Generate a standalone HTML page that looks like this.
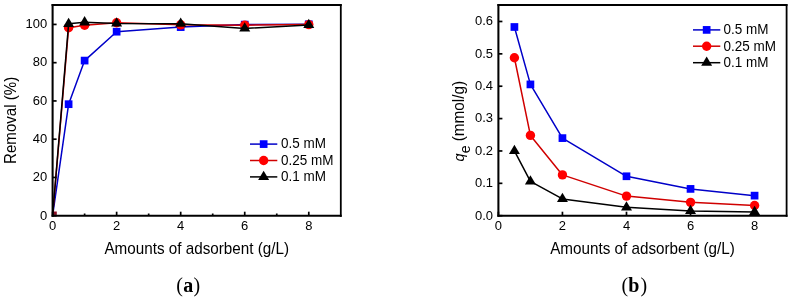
<!DOCTYPE html>
<html><head><meta charset="utf-8"><style>
html,body{margin:0;padding:0;background:#fff;}
body{width:794px;height:302px;overflow:hidden;}
svg{display:block;}
#w{width:794px;height:302px;will-change:transform;}
</style></head><body><div id="w">
<svg width="794" height="302" viewBox="0 0 794 302">
<rect width="794" height="302" fill="#fff"/>
<defs>
<clipPath id="cl"><rect x="52.6" y="5.3" width="288.2" height="210.4"/></clipPath>
<clipPath id="cr"><rect x="498.4" y="5.3" width="288.2" height="210.4"/></clipPath>
</defs>
<path d="M52.6 215.7L68.61 104.19L84.62 60.58L116.64 31.7L180.69 27.11L244.73 24.62L308.78 24.24" fill="none" stroke="#0000c8" stroke-width="1.5" stroke-linejoin="round" clip-path="url(#cl)"/>
<g clip-path="url(#cl)"><rect x="64.76" y="100.34" width="7.7" height="7.7" fill="#0000ff"/></g>
<g clip-path="url(#cl)"><rect x="80.77" y="56.73" width="7.7" height="7.7" fill="#0000ff"/></g>
<g clip-path="url(#cl)"><rect x="112.79" y="27.85" width="7.7" height="7.7" fill="#0000ff"/></g>
<g clip-path="url(#cl)"><rect x="176.84" y="23.26" width="7.7" height="7.7" fill="#0000ff"/></g>
<g clip-path="url(#cl)"><rect x="240.88" y="20.77" width="7.7" height="7.7" fill="#0000ff"/></g>
<g clip-path="url(#cl)"><rect x="304.93" y="20.39" width="7.7" height="7.7" fill="#0000ff"/></g>
<path d="M52.6 215.7L68.61 27.68L84.62 25.19L116.64 22.71L180.69 24.81L244.73 25.19L308.78 24.62" fill="none" stroke="#d00000" stroke-width="1.5" stroke-linejoin="round" clip-path="url(#cl)"/>
<g clip-path="url(#cl)"><circle cx="68.61" cy="27.68" r="4.7" fill="#ff0000"/></g>
<g clip-path="url(#cl)"><circle cx="84.62" cy="25.19" r="4.7" fill="#ff0000"/></g>
<g clip-path="url(#cl)"><circle cx="116.64" cy="22.71" r="4.7" fill="#ff0000"/></g>
<g clip-path="url(#cl)"><circle cx="180.69" cy="24.81" r="4.7" fill="#ff0000"/></g>
<g clip-path="url(#cl)"><circle cx="244.73" cy="25.19" r="4.7" fill="#ff0000"/></g>
<g clip-path="url(#cl)"><circle cx="308.78" cy="24.62" r="4.7" fill="#ff0000"/></g>
<path d="M52.6 215.7L68.61 23.85L84.62 22.32L116.64 23.38L180.69 23.66L244.73 28.44L308.78 25" fill="none" stroke="#000000" stroke-width="1.5" stroke-linejoin="round" clip-path="url(#cl)"/>
<g clip-path="url(#cl)"><path d="M68.61 17.65L74.11 26.95L63.11 26.95Z" fill="#000000"/></g>
<g clip-path="url(#cl)"><path d="M84.62 16.12L90.12 25.42L79.12 25.42Z" fill="#000000"/></g>
<g clip-path="url(#cl)"><path d="M116.64 17.18L122.14 26.48L111.14 26.48Z" fill="#000000"/></g>
<g clip-path="url(#cl)"><path d="M180.69 17.46L186.19 26.76L175.19 26.76Z" fill="#000000"/></g>
<g clip-path="url(#cl)"><path d="M244.73 22.24L250.23 31.54L239.23 31.54Z" fill="#000000"/></g>
<g clip-path="url(#cl)"><path d="M308.78 18.8L314.28 28.1L303.28 28.1Z" fill="#000000"/></g>
<rect x="53.6" y="211.5" width="3.2" height="3.4" fill="#8a0f25"/>
<path d="M514.41 26.99L530.42 84.41L562.44 138.11L626.49 176.27L690.53 188.9L754.58 195.63" fill="none" stroke="#0000c8" stroke-width="1.5" stroke-linejoin="round" clip-path="url(#cr)"/>
<g clip-path="url(#cr)"><rect x="510.56" y="23.14" width="7.7" height="7.7" fill="#0000ff"/></g>
<g clip-path="url(#cr)"><rect x="526.57" y="80.56" width="7.7" height="7.7" fill="#0000ff"/></g>
<g clip-path="url(#cr)"><rect x="558.59" y="134.26" width="7.7" height="7.7" fill="#0000ff"/></g>
<g clip-path="url(#cr)"><rect x="622.64" y="172.42" width="7.7" height="7.7" fill="#0000ff"/></g>
<g clip-path="url(#cr)"><rect x="686.68" y="185.05" width="7.7" height="7.7" fill="#0000ff"/></g>
<g clip-path="url(#cr)"><rect x="750.73" y="191.78" width="7.7" height="7.7" fill="#0000ff"/></g>
<path d="M514.41 57.74L530.42 135.42L562.44 174.91L626.49 196.12L690.53 202.33L754.58 205.54" fill="none" stroke="#d00000" stroke-width="1.5" stroke-linejoin="round" clip-path="url(#cr)"/>
<g clip-path="url(#cr)"><circle cx="514.41" cy="57.74" r="4.7" fill="#ff0000"/></g>
<g clip-path="url(#cr)"><circle cx="530.42" cy="135.42" r="4.7" fill="#ff0000"/></g>
<g clip-path="url(#cr)"><circle cx="562.44" cy="174.91" r="4.7" fill="#ff0000"/></g>
<g clip-path="url(#cr)"><circle cx="626.49" cy="196.12" r="4.7" fill="#ff0000"/></g>
<g clip-path="url(#cr)"><circle cx="690.53" cy="202.33" r="4.7" fill="#ff0000"/></g>
<g clip-path="url(#cr)"><circle cx="754.58" cy="205.54" r="4.7" fill="#ff0000"/></g>
<path d="M514.41 150.96L530.42 181.39L562.44 198.93L626.49 207.35L690.53 211.01L754.58 211.88" fill="none" stroke="#000000" stroke-width="1.5" stroke-linejoin="round" clip-path="url(#cr)"/>
<g clip-path="url(#cr)"><path d="M514.41 144.76L519.91 154.06L508.91 154.06Z" fill="#000000"/></g>
<g clip-path="url(#cr)"><path d="M530.42 175.19L535.92 184.49L524.92 184.49Z" fill="#000000"/></g>
<g clip-path="url(#cr)"><path d="M562.44 192.73L567.94 202.03L556.94 202.03Z" fill="#000000"/></g>
<g clip-path="url(#cr)"><path d="M626.49 201.15L631.99 210.45L620.99 210.45Z" fill="#000000"/></g>
<g clip-path="url(#cr)"><path d="M690.53 204.81L696.03 214.11L685.03 214.11Z" fill="#000000"/></g>
<g clip-path="url(#cr)"><path d="M754.58 205.68L760.08 214.98L749.08 214.98Z" fill="#000000"/></g>
<path d="M52.6 4.1V216.85" stroke="#000" stroke-width="2.05" fill="none"/>
<path d="M51.58 215.82H341.7" stroke="#000" stroke-width="2.05" fill="none"/>
<path d="M51.58 5.1H341.7" stroke="#000" stroke-width="2.0" fill="none"/>
<path d="M340.8 4.1V216.85" stroke="#000" stroke-width="1.8" fill="none"/>
<line x1="52.6" y1="215.7" x2="52.6" y2="211.7" stroke="#000" stroke-width="1.7"/>
<text transform="translate(52.6 230.2) scale(1 1.045)" text-anchor="middle" font-size="13" style="font-family:&quot;Liberation Sans&quot;,sans-serif">0</text>
<line x1="116.64" y1="215.7" x2="116.64" y2="211.7" stroke="#000" stroke-width="1.7"/>
<text transform="translate(116.64 230.2) scale(1 1.045)" text-anchor="middle" font-size="13" style="font-family:&quot;Liberation Sans&quot;,sans-serif">2</text>
<line x1="180.69" y1="215.7" x2="180.69" y2="211.7" stroke="#000" stroke-width="1.7"/>
<text transform="translate(180.69 230.2) scale(1 1.045)" text-anchor="middle" font-size="13" style="font-family:&quot;Liberation Sans&quot;,sans-serif">4</text>
<line x1="244.73" y1="215.7" x2="244.73" y2="211.7" stroke="#000" stroke-width="1.7"/>
<text transform="translate(244.73 230.2) scale(1 1.045)" text-anchor="middle" font-size="13" style="font-family:&quot;Liberation Sans&quot;,sans-serif">6</text>
<line x1="308.78" y1="215.7" x2="308.78" y2="211.7" stroke="#000" stroke-width="1.7"/>
<text transform="translate(308.78 230.2) scale(1 1.045)" text-anchor="middle" font-size="13" style="font-family:&quot;Liberation Sans&quot;,sans-serif">8</text>
<line x1="84.62" y1="215.7" x2="84.62" y2="213.5" stroke="#000" stroke-width="1.7"/>
<line x1="148.67" y1="215.7" x2="148.67" y2="213.5" stroke="#000" stroke-width="1.7"/>
<line x1="212.71" y1="215.7" x2="212.71" y2="213.5" stroke="#000" stroke-width="1.7"/>
<line x1="276.76" y1="215.7" x2="276.76" y2="213.5" stroke="#000" stroke-width="1.7"/>
<line x1="52.6" y1="215.7" x2="56.6" y2="215.7" stroke="#000" stroke-width="1.7"/>
<text transform="translate(47.3 219.5) scale(1 1.045)" text-anchor="end" font-size="13" style="font-family:&quot;Liberation Sans&quot;,sans-serif">0</text>
<line x1="52.6" y1="177.45" x2="56.6" y2="177.45" stroke="#000" stroke-width="1.7"/>
<text transform="translate(47.3 181.25) scale(1 1.045)" text-anchor="end" font-size="13" style="font-family:&quot;Liberation Sans&quot;,sans-serif">20</text>
<line x1="52.6" y1="139.19" x2="56.6" y2="139.19" stroke="#000" stroke-width="1.7"/>
<text transform="translate(47.3 142.99) scale(1 1.045)" text-anchor="end" font-size="13" style="font-family:&quot;Liberation Sans&quot;,sans-serif">40</text>
<line x1="52.6" y1="100.94" x2="56.6" y2="100.94" stroke="#000" stroke-width="1.7"/>
<text transform="translate(47.3 104.74) scale(1 1.045)" text-anchor="end" font-size="13" style="font-family:&quot;Liberation Sans&quot;,sans-serif">60</text>
<line x1="52.6" y1="62.68" x2="56.6" y2="62.68" stroke="#000" stroke-width="1.7"/>
<text transform="translate(47.3 66.48) scale(1 1.045)" text-anchor="end" font-size="13" style="font-family:&quot;Liberation Sans&quot;,sans-serif">80</text>
<line x1="52.6" y1="24.43" x2="56.6" y2="24.43" stroke="#000" stroke-width="1.7"/>
<text transform="translate(47.3 28.23) scale(1 1.045)" text-anchor="end" font-size="13" style="font-family:&quot;Liberation Sans&quot;,sans-serif">100</text>
<path d="M498.4 4.1V216.85" stroke="#000" stroke-width="2.05" fill="none"/>
<path d="M497.38 215.82H787.5" stroke="#000" stroke-width="2.05" fill="none"/>
<path d="M497.38 5.1H787.5" stroke="#000" stroke-width="2.0" fill="none"/>
<path d="M786.6 4.1V216.85" stroke="#000" stroke-width="1.8" fill="none"/>
<line x1="498.4" y1="215.7" x2="498.4" y2="211.7" stroke="#000" stroke-width="1.7"/>
<text transform="translate(498.4 230.2) scale(1 1.045)" text-anchor="middle" font-size="13" style="font-family:&quot;Liberation Sans&quot;,sans-serif">0</text>
<line x1="562.44" y1="215.7" x2="562.44" y2="211.7" stroke="#000" stroke-width="1.7"/>
<text transform="translate(562.44 230.2) scale(1 1.045)" text-anchor="middle" font-size="13" style="font-family:&quot;Liberation Sans&quot;,sans-serif">2</text>
<line x1="626.49" y1="215.7" x2="626.49" y2="211.7" stroke="#000" stroke-width="1.7"/>
<text transform="translate(626.49 230.2) scale(1 1.045)" text-anchor="middle" font-size="13" style="font-family:&quot;Liberation Sans&quot;,sans-serif">4</text>
<line x1="690.53" y1="215.7" x2="690.53" y2="211.7" stroke="#000" stroke-width="1.7"/>
<text transform="translate(690.53 230.2) scale(1 1.045)" text-anchor="middle" font-size="13" style="font-family:&quot;Liberation Sans&quot;,sans-serif">6</text>
<line x1="754.58" y1="215.7" x2="754.58" y2="211.7" stroke="#000" stroke-width="1.7"/>
<text transform="translate(754.58 230.2) scale(1 1.045)" text-anchor="middle" font-size="13" style="font-family:&quot;Liberation Sans&quot;,sans-serif">8</text>
<line x1="498.4" y1="215.7" x2="502.4" y2="215.7" stroke="#000" stroke-width="1.7"/>
<text transform="translate(493.1 219.5) scale(1 1.045)" text-anchor="end" font-size="13" style="font-family:&quot;Liberation Sans&quot;,sans-serif">0.0</text>
<line x1="498.4" y1="183.33" x2="502.4" y2="183.33" stroke="#000" stroke-width="1.7"/>
<text transform="translate(493.1 187.13) scale(1 1.045)" text-anchor="end" font-size="13" style="font-family:&quot;Liberation Sans&quot;,sans-serif">0.1</text>
<line x1="498.4" y1="150.96" x2="502.4" y2="150.96" stroke="#000" stroke-width="1.7"/>
<text transform="translate(493.1 154.76) scale(1 1.045)" text-anchor="end" font-size="13" style="font-family:&quot;Liberation Sans&quot;,sans-serif">0.2</text>
<line x1="498.4" y1="118.59" x2="502.4" y2="118.59" stroke="#000" stroke-width="1.7"/>
<text transform="translate(493.1 122.39) scale(1 1.045)" text-anchor="end" font-size="13" style="font-family:&quot;Liberation Sans&quot;,sans-serif">0.3</text>
<line x1="498.4" y1="86.22" x2="502.4" y2="86.22" stroke="#000" stroke-width="1.7"/>
<text transform="translate(493.1 90.02) scale(1 1.045)" text-anchor="end" font-size="13" style="font-family:&quot;Liberation Sans&quot;,sans-serif">0.4</text>
<line x1="498.4" y1="53.85" x2="502.4" y2="53.85" stroke="#000" stroke-width="1.7"/>
<text transform="translate(493.1 57.65) scale(1 1.045)" text-anchor="end" font-size="13" style="font-family:&quot;Liberation Sans&quot;,sans-serif">0.5</text>
<line x1="498.4" y1="21.48" x2="502.4" y2="21.48" stroke="#000" stroke-width="1.7"/>
<text transform="translate(493.1 25.28) scale(1 1.045)" text-anchor="end" font-size="13" style="font-family:&quot;Liberation Sans&quot;,sans-serif">0.6</text>
<text transform="translate(196.7 253.6) scale(1 1.045)" text-anchor="middle" font-size="15.25" style="font-family:&quot;Liberation Sans&quot;,sans-serif">Amounts of adsorbent (g/L)</text>
<text transform="translate(642.5 253.6) scale(1 1.045)" text-anchor="middle" font-size="15.25" style="font-family:&quot;Liberation Sans&quot;,sans-serif">Amounts of adsorbent (g/L)</text>
<text transform="translate(15.9 120.35) rotate(-90) scale(1 1.045)" text-anchor="middle" font-size="15.1" style="font-family:&quot;Liberation Sans&quot;,sans-serif">Removal (%)</text>
<text transform="translate(463.7 161.4) rotate(-90) scale(1 1.045)" font-size="14.6" style="font-family:&quot;Liberation Sans&quot;,sans-serif"><tspan font-style="italic">q</tspan><tspan dy="5.8" font-size="14">e</tspan><tspan dy="-5.5" font-size="15.3"> (mmol/g)</tspan></text>
<line x1="250" y1="144.1" x2="277.3" y2="144.1" stroke="#0000c8" stroke-width="1.5"/>
<rect x="259.8" y="140.25" width="7.7" height="7.7" fill="#0000ff"/>
<text transform="translate(281 148.4) scale(1 1.045)" font-size="13.5" style="font-family:&quot;Liberation Sans&quot;,sans-serif">0.5 mM</text>
<line x1="250" y1="160.5" x2="277.3" y2="160.5" stroke="#d00000" stroke-width="1.5"/>
<circle cx="263.65" cy="160.5" r="4.7" fill="#ff0000"/>
<text transform="translate(281 164.8) scale(1 1.045)" font-size="13.5" style="font-family:&quot;Liberation Sans&quot;,sans-serif">0.25 mM</text>
<line x1="250" y1="176.9" x2="277.3" y2="176.9" stroke="#000000" stroke-width="1.5"/>
<path d="M263.65 170.7L269.15 180L258.15 180Z" fill="#000000"/>
<text transform="translate(281 181.2) scale(1 1.045)" font-size="13.5" style="font-family:&quot;Liberation Sans&quot;,sans-serif">0.1 mM</text>
<line x1="693" y1="29.9" x2="720.3" y2="29.9" stroke="#0000c8" stroke-width="1.5"/>
<rect x="702.8" y="26.05" width="7.7" height="7.7" fill="#0000ff"/>
<text transform="translate(723.6 34.2) scale(1 1.045)" font-size="13.5" style="font-family:&quot;Liberation Sans&quot;,sans-serif">0.5 mM</text>
<line x1="693" y1="46.2" x2="720.3" y2="46.2" stroke="#d00000" stroke-width="1.5"/>
<circle cx="706.65" cy="46.2" r="4.7" fill="#ff0000"/>
<text transform="translate(723.6 50.5) scale(1 1.045)" font-size="13.5" style="font-family:&quot;Liberation Sans&quot;,sans-serif">0.25 mM</text>
<line x1="693" y1="62.7" x2="720.3" y2="62.7" stroke="#000000" stroke-width="1.5"/>
<path d="M706.65 56.5L712.15 65.8L701.15 65.8Z" fill="#000000"/>
<text transform="translate(723.6 67) scale(1 1.045)" font-size="13.5" style="font-family:&quot;Liberation Sans&quot;,sans-serif">0.1 mM</text>
<text x="176.2" y="291.5" font-size="20" style="font-family:&quot;Liberation Serif&quot;,serif">(<tspan font-weight="bold" dx="0.3">a</tspan><tspan dx="0.4">)</tspan></text>
<text x="621.6" y="291.5" font-size="20" style="font-family:&quot;Liberation Serif&quot;,serif">(<tspan font-weight="bold">b</tspan><tspan dx="1">)</tspan></text>
</svg></div>
</body></html>
